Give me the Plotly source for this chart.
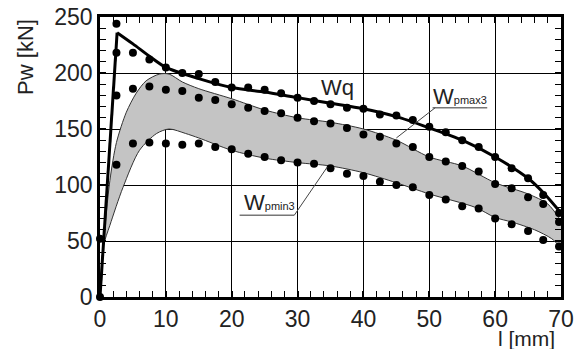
import plotly.graph_objects as go

# ---- data ----
wq_dot_x = [0, 2.5, 2.5, 5, 7.5, 10, 12.5, 15, 17.5, 20, 22.5, 25, 27.5, 30, 32.5, 35,
            37.5, 40, 42.5, 45, 47.5, 50, 52.5, 55, 57.5, 60, 62.5, 65, 67.3, 69.7]
wq_dot_y = [0, 244, 218, 218, 212, 205, 200, 199, 192, 187, 187, 185, 182, 178, 175, 172,
            169, 168, 163, 162, 158, 152, 147, 140, 134, 125, 115, 106, 91, 75]

pmax_dot_x = [0, 2.5, 5, 7.5, 10, 12.5, 15, 17.5, 20, 22.5, 25, 27.5, 30, 32.5, 35,
              37.5, 40, 42.5, 45, 47.5, 50, 52.5, 55, 57.5, 60, 62.5, 65, 67.3, 69.7]
pmax_dot_y = [52, 180, 186, 188, 185, 184, 178, 176, 172, 169, 166, 164, 160, 157, 155,
              151, 145, 143, 137, 134, 125, 121, 117, 112, 101, 97, 89, 83, 67]

pmin_dot_x = [2.5, 5, 7.5, 10, 12.5, 15, 17.5, 20, 22.5, 25, 27.5, 30, 32.5, 35,
              37.5, 40, 42.5, 45, 47.5, 50, 52.5, 55, 57.5, 60, 62.5, 65, 67.3, 69.7]
pmin_dot_y = [118, 137, 138, 137, 136, 137, 134, 132, 128, 125, 122, 120, 119, 115,
              110, 108, 103, 100, 98, 91, 87, 81, 79, 70, 65, 59, 51, 45]

wq_x = [0, 2.6, 5, 7.5, 10, 15, 20, 25, 30, 35, 40, 45, 50, 55, 60, 65, 67.5, 70]
wq_y = [0, 236, 226, 215, 205, 195, 187, 183, 178, 173, 168, 161, 151, 140, 125, 106, 92, 75]

band_up_x = [0, 0.5, 1.5, 2.5, 4, 5.5, 7, 9, 10.5, 12.5, 15, 20, 25, 30, 35, 40, 45, 50, 55, 60, 65, 68, 70]
band_up_y = [0, 45, 104, 138, 165, 182, 193, 199, 199, 192, 186, 177, 167, 160, 156, 150, 140, 125, 117, 102, 92, 83, 68]

band_lo_x = [0, 0.5, 1.5, 3.5, 6, 8.6, 10.5, 13, 15, 20, 25, 30, 35, 40, 45, 50, 57, 60, 62.5, 66, 68.6, 70]
band_lo_y = [0, 45, 64, 98, 131, 146, 150, 146, 142, 131, 124, 120, 117, 111, 102, 92, 80, 71, 67, 60, 52, 44]

x_ticks = [0, 10, 20, 30, 40, 50, 60, 70]
y_ticks = [0, 50, 100, 150, 200, 250]

FONT = "Liberation Sans, Arial, sans-serif"

fig = go.Figure()

# gray band between Wpmax3 and Wpmin3
fig.add_trace(go.Scatter(x=band_up_x, y=band_up_y, mode="lines",
                         line=dict(color="#333333", width=1, shape="spline", smoothing=0.8),
                         hoverinfo="skip", showlegend=False))
fig.add_trace(go.Scatter(x=band_lo_x, y=band_lo_y, mode="lines", fill="tonexty",
                         fillcolor="#c4c4c4",
                         line=dict(color="#333333", width=1, shape="spline", smoothing=0.8),
                         hoverinfo="skip", showlegend=False))

# Wq curve: straight rise, then smooth descent
fig.add_trace(go.Scatter(x=wq_x[:2], y=wq_y[:2], mode="lines",
                         line=dict(color="black", width=3), showlegend=False))
fig.add_trace(go.Scatter(x=wq_x[1:], y=wq_y[1:], mode="lines",
                         line=dict(color="black", width=3, shape="spline", smoothing=0.8),
                         showlegend=False))

for dx, dy in [(wq_dot_x, wq_dot_y), (pmax_dot_x, pmax_dot_y), (pmin_dot_x, pmin_dot_y)]:
    fig.add_trace(go.Scatter(x=dx, y=dy, mode="markers", cliponaxis=False,
                             marker=dict(color="black", size=8), showlegend=False))

axis_common = dict(showline=True, linewidth=2.5, linecolor="black", mirror="allticks",
                   showgrid=True, gridcolor="black", gridwidth=1.2, zeroline=False,
                   automargin=False, ticklabeloverflow="allow",
                   ticks="inside", ticklen=6, tickwidth=1.5, tickcolor="black",
                   tickfont=dict(family=FONT, size=23, color="#222222"))

fig.update_xaxes(range=[0, 70], tickvals=x_ticks, ticktext=[str(v) for v in x_ticks],
                 minor=dict(dtick=2, ticks="inside", ticklen=6, tickwidth=1.3,
                            tickcolor="black", showgrid=False),
                 **axis_common)
fig.update_yaxes(range=[0, 250], tickvals=y_ticks, ticktext=[str(v) for v in y_ticks],
                 minor=dict(dtick=10, ticks="inside", ticklen=6, tickwidth=1.3,
                            tickcolor="black", showgrid=False),
                 **axis_common)

ann_font = dict(family=FONT, size=22, color="#222222")
annotations = [
    dict(text="Pw [kN]", xref="paper", yref="paper", x=-0.163, y=0.857, textangle=-90,
         showarrow=False, xanchor="center", yanchor="middle", font=ann_font),
    dict(text="l [mm]", xref="paper", yref="paper", x=0.926, y=-0.148,
         showarrow=False, xanchor="center", yanchor="middle",
         font=dict(family=FONT, size=21, color="#222222")),
    dict(text="Wq", xref="x", yref="y", x=36.1, y=187, showarrow=False,
         xanchor="center", yanchor="middle", font=ann_font),
    dict(text="W<span style='font-size:11px'>pmax3</span>", xref="x", yref="y",
         x=50.3, y=179, showarrow=False, xanchor="left", yanchor="middle", font=ann_font),
    dict(text="W<span style='font-size:11px'>pmin3</span>", xref="x", yref="y",
         x=21.5, y=84, showarrow=False, xanchor="left", yanchor="middle", font=ann_font),
]

shapes = [
    dict(type="line", xref="x", yref="y", x0=50.5, y0=169, x1=58.8, y1=169,
         line=dict(color="#777777", width=1.5)),
    dict(type="line", xref="x", yref="y", x0=50.9, y0=169, x1=45, y1=142,
         line=dict(color="#444444", width=1)),
    dict(type="line", xref="x", yref="y", x0=21.2, y0=73, x1=29.5, y1=73,
         line=dict(color="#777777", width=1.5)),
    dict(type="line", xref="x", yref="y", x0=29.5, y0=73, x1=34.5, y1=116,
         line=dict(color="#444444", width=1)),
]

fig.update_layout(width=584, height=349, margin=dict(l=100, r=23, t=17, b=52),
                  paper_bgcolor="white", plot_bgcolor="white",
                  annotations=annotations, shapes=shapes, showlegend=False)

# remove the default page margin so the figure fills the window exactly
fig.write_html("out.html", config={"displayModeBar": False},
               post_script="document.body.style.margin='0';document.body.style.overflow='hidden';")
